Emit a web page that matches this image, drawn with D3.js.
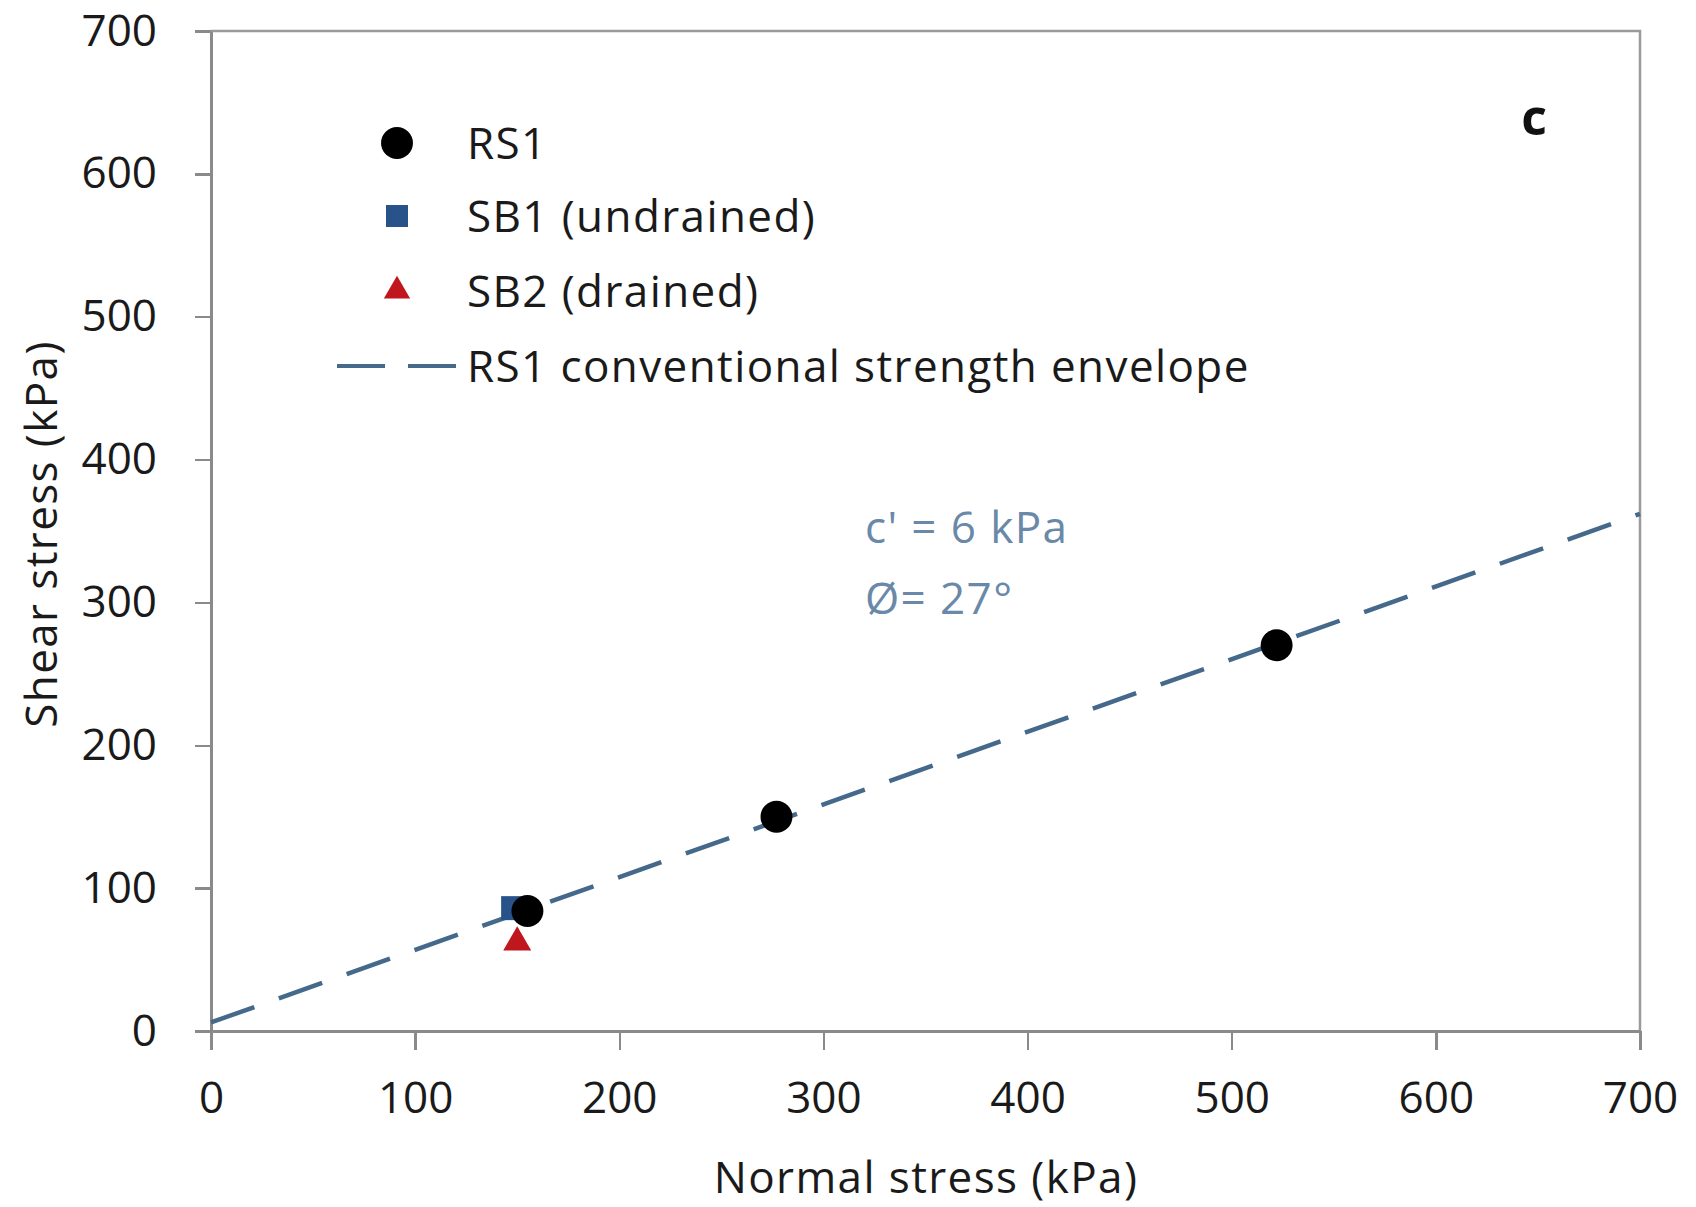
<!DOCTYPE html>
<meta charset="utf-8">
<style>
    body {
        margin: 0;
        background: #fff;
        font-family: "Open Sans", Lato, sans-serif;
    }

    .axis path,
    .axis line {
        stroke: #8a8a8a;
        stroke-width: 2.5;
        shape-rendering: crispEdges;
    }

    .axis text {
        font-family: "Open Sans", sans-serif;
        font-size: 44px;
        fill: #1a1a1a;
    }

    .label {
        font-size: 44px;
        letter-spacing: 1.4px;
    }
</style>

<body>
    <script src="https://d3js.org/d3.v7.min.js"></script>
    <script>

        // values
        var xTicks = [0, 100, 200, 300, 400, 500, 600, 700];
        var yTicks = [0, 100, 200, 300, 400, 500, 600, 700];

        var rs1X = [155, 277, 522];
        var rs1Y = [84, 150, 270];

        var sb1X = [148];
        var sb1Y = [86];

        var sb2X = [150];
        var sb2Y = [62];

        var envelopeX = [0, 700];
        var envelopeY = [6, 362];

        var legendLabels = ["RS1", "SB1 (undrained)", "SB2 (drained)", "RS1 conventional strength envelope"];
        var noteLines = ["c' = 6 kPa", "Ø= 27°"];

        var margin = { top: 31, right: 56, bottom: 176, left: 211 },
            width = 1696 - margin.left - margin.right,
            height = 1207 - margin.top - margin.bottom;

        var svg = d3.select("body").append("svg")
            .attr("width", 1696)
            .attr("height", 1207);

        var g = svg.append("g")
            .attr("transform", "translate(" + margin.left + "," + margin.top + ")");

        var x = d3.scaleLinear().domain([0, 700]).range([0, width]),
            y = d3.scaleLinear().domain([0, 700]).range([height, 0]);

        // frame (top and right)
        g.append("path")
            .attr("d", "M0,0H" + width + "V" + height)
            .attr("fill", "none")
            .attr("stroke", "#9a9a9a")
            .attr("stroke-width", 2.5);

        g.append("g")
            .attr("class", "axis")
            .attr("transform", "translate(0," + height + ")")
            .call(d3.axisBottom(x).tickValues(xTicks).tickSize(19).tickSizeOuter(0).tickPadding(32));

        g.append("g")
            .attr("class", "axis")
            .call(d3.axisLeft(y).tickValues(yTicks).tickSize(16).tickSizeOuter(0).tickPadding(38));

        // axis titles
        svg.append("text")
            .attr("class", "label")
            .attr("x", 926)
            .attr("y", 1193)
            .attr("text-anchor", "middle")
            .attr("fill", "#1a1a1a")
            .text("Normal stress (kPa)");

        svg.append("text")
            .attr("class", "label")
            .attr("transform", "translate(57," + 534 + ") rotate(-90)")
            .attr("text-anchor", "middle")
            .attr("fill", "#1a1a1a")
            .text("Shear stress (kPa)");

        // strength envelope
        var line = d3.line()
            .x(function (d) { return x(d[0]); })
            .y(function (d) { return y(d[1]); });

        g.append("path")
            .datum(d3.zip(envelopeX, envelopeY))
            .attr("d", line)
            .attr("fill", "none")
            .attr("stroke", "#45698b")
            .attr("stroke-width", 4.5)
            .attr("stroke-dasharray", "46,26");

        var triangle = d3.symbol().type(d3.symbolTriangle).size(340);
        var square = d3.symbol().type(d3.symbolSquare).size(576);
        var circle = d3.symbol().type(d3.symbolCircle).size(800);

        g.selectAll(".sb2")
            .data(d3.zip(sb2X, sb2Y))
            .enter()
            .append("path")
            .attr("class", "sb2")
            .attr("transform", function (d) { return "translate(" + x(d[0]) + "," + y(d[1]) + ")"; })
            .attr("d", triangle)
            .attr("fill", "#c0171f");

        g.selectAll(".sb1")
            .data(d3.zip(sb1X, sb1Y))
            .enter()
            .append("path")
            .attr("class", "sb1")
            .attr("transform", function (d) { return "translate(" + x(d[0]) + "," + y(d[1]) + ")"; })
            .attr("d", square)
            .attr("fill", "#27528a");

        g.selectAll(".rs1")
            .data(d3.zip(rs1X, rs1Y))
            .enter()
            .append("path")
            .attr("class", "rs1")
            .attr("transform", function (d) { return "translate(" + x(d[0]) + "," + y(d[1]) + ")"; })
            .attr("d", circle)
            .attr("fill", "#000");

        // legend
        var legendY = [143, 216, 291, 366];
        var legend = svg.append("g");

        legend.append("path")
            .attr("transform", "translate(397," + legendY[0] + ")")
            .attr("d", d3.symbol().type(d3.symbolCircle).size(800))
            .attr("fill", "#000");
        legend.append("path")
            .attr("transform", "translate(397," + legendY[1] + ")")
            .attr("d", d3.symbol().type(d3.symbolSquare).size(484))
            .attr("fill", "#27528a");
        legend.append("path")
            .attr("transform", "translate(397," + legendY[2] + ")")
            .attr("d", d3.symbol().type(d3.symbolTriangle).size(300))
            .attr("fill", "#c0171f");
        legend.append("line")
            .attr("x1", 337).attr("x2", 457)
            .attr("y1", legendY[3]).attr("y2", legendY[3])
            .attr("stroke", "#45698b")
            .attr("stroke-width", 4)
            .attr("stroke-dasharray", "48,23");

        legend.selectAll("text")
            .data(legendLabels)
            .enter()
            .append("text")
            .attr("class", "label")
            .attr("x", 467)
            .attr("y", function (d, i) { return legendY[i]; })
            .attr("dy", "0.36em")
            .attr("fill", "#1a1a1a")
            .text(function (d) { return d; });

        // annotation
        svg.selectAll(".note")
            .data(noteLines)
            .enter()
            .append("text")
            .attr("class", "note label")
            .attr("x", 865)
            .attr("y", function (d, i) { return 543 + i * 71; })
            .attr("fill", "#6a88a8")
            .text(function (d) { return d; });

        svg.append("text")
            .attr("x", 1534)
            .attr("y", 135)
            .attr("text-anchor", "middle")
            .attr("font-size", 50)
            .attr("font-weight", "bold")
            .attr("fill", "#111")
            .text("c");

    </script>
</body>
